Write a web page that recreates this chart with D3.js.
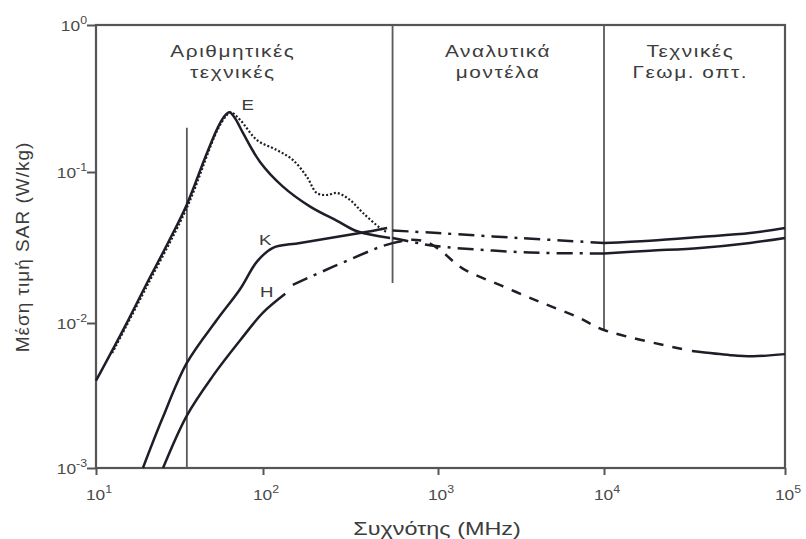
<!DOCTYPE html>
<html>
<head>
<meta charset="utf-8">
<script src="https://cdn.jsdelivr.net/npm/d3@7"></script>
<style>
  body { margin: 0; background: #fff; }
  text { font-family: "Liberation Sans", Arial, sans-serif; }
</style>
</head>
<body>
<div id="chart"></div>
<script>
var width = 806;
var height = 539;

// axis ticks (decades) and their exponents
var xTicks = [10, 100, 1000, 1e4, 1e5];
var xExp = ["1", "2", "3", "4", "5"];
var yTicks = [1, 0.1, 0.01, 0.001];
var yExp = ["0", "-1", "-2", "-3"];

// region dividers: [freq, sar from, sar to]
var dividers = [[35, 0.001, 0.2], [550, 0.0184, 1], [1e4, 0.0088, 1]];
var regionNames = [["Αριθμητικές", "τεχνικές"], ["Αναλυτικά", "μοντέλα"], ["Τεχνικές", "Γεωμ. οπτ."]];

// curves, [MHz, W/kg]
var eSolid = [[10, 0.004], [15, 0.0096], [20, 0.018], [27, 0.034], [35, 0.061], [45, 0.125],
  [53, 0.195], [58, 0.235], [63, 0.255], [68, 0.232], [76, 0.184], [96, 0.117], [130, 0.08],
  [186, 0.059], [265, 0.0475], [345, 0.0405], [532, 0.0366]];
var eDotted = [[12.5, 0.0062], [20, 0.0172], [35, 0.058], [53, 0.19], [60, 0.24], [64, 0.255],
  [73, 0.226], [92, 0.165], [120, 0.141], [148, 0.121], [178, 0.093], [203, 0.0726], [232, 0.0704],
  [265, 0.0726], [314, 0.0653], [373, 0.0535], [467, 0.0426], [512, 0.0398]];
var kSolid = [[19.1, 0.001], [25, 0.0022], [35, 0.0053], [53, 0.0105], [73, 0.0168], [92, 0.0255],
  [114, 0.0315], [163, 0.0339], [358, 0.0394], [512, 0.0426]];
var hSolid = [[25.2, 0.001], [35, 0.0023], [50, 0.0043], [73, 0.0076], [100, 0.0117], [134, 0.0156]];
var hDashDot = [[148, 0.0179], [250, 0.0235], [467, 0.0319], [550, 0.0338]];
var kAnalytic = [[550, 0.041], [1000, 0.0394], [3120, 0.0365], [1e4, 0.0339]];
var eAnalytic = [[550, 0.0366], [750, 0.034], [1000, 0.0322], [3580, 0.0293], [1e4, 0.0289]];
var hAnalytic = [[550, 0.0338], [700, 0.0356], [850, 0.0345], [1030, 0.0304], [1395, 0.0231],
  [2430, 0.0176], [4240, 0.0136], [6870, 0.011], [1e4, 0.00895], [27300, 0.0066]];
var kGeo = [[1e4, 0.0339], [17900, 0.0351], [33900, 0.0371], [64100, 0.0394], [1e5, 0.0426]];
var eGeo = [[1e4, 0.0289], [17900, 0.0301], [33900, 0.0314], [64100, 0.0339], [1e5, 0.0366]];
var hGeo = [[30600, 0.0064], [50000, 0.006], [66500, 0.0059], [1e5, 0.0061]];

var svg = d3.select('#chart').append('svg').attr('width', width).attr('height', height);

// scanned figure: decades are not evenly spaced, so map each one
var x = d3.scaleLog().domain(xTicks).range([96, 263, 438, 604, 785]);
var y = d3.scaleLog().domain(yTicks).range([25, 172, 323, 468]);

var axisColor = '#555';
var inkColor = '#1e1e28';
var textColor = '#3c3c3c';

// text in the scan is wider than it is tall
function wideText(px, py, sx, size, s, anchor) {
  return svg.append('g').attr('transform', 'translate(' + px + ',' + py + ') scale(' + sx + ',1)')
    .append('text').attr('text-anchor', anchor || 'middle').attr('font-size', size)
    .attr('fill', textColor).text(s);
}

// frame
svg.append('rect')
  .attr('x', x(10)).attr('y', y(1))
  .attr('width', x(1e5) - x(10)).attr('height', y(0.001) - y(1))
  .attr('fill', 'none').attr('stroke', axisColor).attr('stroke-width', 2.2);

var xAxis = svg.append('g').attr('transform', 'translate(0,' + y(0.001) + ')')
  .call(d3.axisBottom(x).tickValues(xTicks).tickSize(7).tickFormat(''));
var yAxis = svg.append('g').attr('transform', 'translate(' + x(10) + ',0)')
  .call(d3.axisLeft(y).tickValues(yTicks).tickSize(9).tickFormat(''));
[xAxis, yAxis].forEach(function(a) {
  a.select('.domain').remove();
  a.selectAll('line').attr('stroke', axisColor).attr('stroke-width', 2);
});

// tick labels with superscripts
xTicks.forEach(function(t, i) {
  var tx = wideText(x(t) + 3, 500, 1.12, 15.5, '', 'middle').attr('fill', '#4a4a4a');
  tx.append('tspan').text('10');
  tx.append('tspan').attr('dy', -7).attr('font-size', 11).text(xExp[i]);
});
yTicks.forEach(function(t, i) {
  var tx = wideText(87, y(t) + 6, 1.12, 15.5, '', 'end').attr('fill', '#4a4a4a');
  tx.append('tspan').text('10');
  tx.append('tspan').attr('dy', -7).attr('font-size', 11).text(yExp[i]);
});

// axis titles
wideText(437, 535, 1.3, 18, 'Συχνότης (MHz)');
svg.append('g').attr('transform', 'translate(29,247) rotate(-90)')
  .append('text').attr('text-anchor', 'middle').attr('font-size', 19)
  .attr('letter-spacing', 1).attr('fill', textColor)
  .text('Μέση τιμή SAR (W/kg)');

// region dividers
svg.selectAll('.divider').data(dividers).enter().append('line')
  .attr('class', 'divider')
  .attr('x1', function(d) { return x(d[0]); }).attr('x2', function(d) { return x(d[0]); })
  .attr('y1', function(d) { return y(d[1]); }).attr('y2', function(d) { return y(d[2]); })
  .attr('stroke', '#5a5a5a').attr('stroke-width', 1.8);

// region names, centred in each band
var regionAt = [66, 2300, 30000];
regionNames.forEach(function(lines, i) {
  lines.forEach(function(s, j) {
    wideText(x(regionAt[i]), 57 + j * 21, 1.3, 16, s).attr('letter-spacing', 1.2);
  });
});

var line = d3.line()
  .x(function(d) { return x(d[0]); })
  .y(function(d) { return y(d[1]); })
  .curve(d3.curveCatmullRom.alpha(0.5));

function draw(data, dash, w) {
  svg.append('path').datum(data).attr('d', line)
    .attr('fill', 'none').attr('stroke', inkColor)
    .attr('stroke-width', w || 2.5)
    .attr('stroke-dasharray', dash || null);
}

var dashDot = '16,7,3,7';
draw(eDotted, '2,2', 2.2);
draw(eSolid);
draw(kSolid);
draw(hSolid);
draw(hDashDot, dashDot);
draw(kAnalytic, dashDot);
draw(eAnalytic, dashDot);
draw(hAnalytic, '10,9');
draw(kGeo);
draw(eGeo);
draw(hGeo);

// curve labels
var curveLabels = [['E', 81, 0.264], ['K', 103, 0.0329], ['H', 105, 0.0149]];
curveLabels.forEach(function(c) {
  wideText(x(c[1]), y(c[2]), 1.2, 15.5, c[0]);
});
</script>
</body>
</html>
